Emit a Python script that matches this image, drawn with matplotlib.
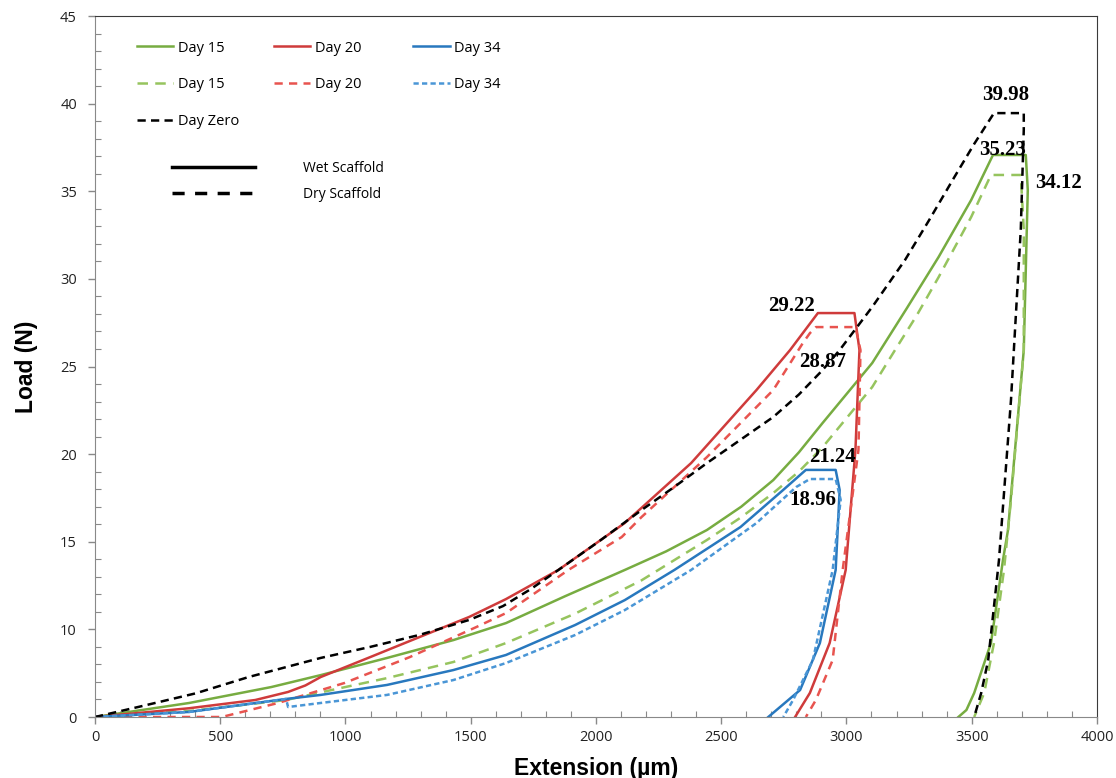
import matplotlib
matplotlib.use('Agg')
import matplotlib.pyplot as plt
from matplotlib.lines import Line2D
from matplotlib.ticker import MultipleLocator

# load is stored in the units of the printed y scale; the bottom gridline (printed "0") sits at 5
x_d15_wet = [0, 376, 704, 901, 1166, 1431, 1641, 1878, 2115, 2280, 2443, 2580, 2708, 2810, 2905, 3103, 3240,
             3368, 3498, 3585, 3716, 3724, 3716, 3708, 3645, 3625, 3577, 3510, 3479, 3447]
y_d15_wet = [5, 5.8, 6.71, 7.39, 8.37, 9.39, 10.36, 11.9, 13.39, 14.45, 15.67, 17.0, 18.52, 20.1, 21.78, 25.2, 28.3,
             31.25, 34.5, 37.07, 37.07, 35.07, 30.5, 25.94, 15.67, 13.96, 9.22, 6.37, 5.4, 5.0]

x_d20_wet = [0, 376, 640, 771, 840, 901, 1099, 1297, 1494, 1641, 1850, 2115, 2380, 2641, 2775, 2886,
             3032, 3052, 3036, 2997, 2933, 2854, 2795]
y_d20_wet = [5, 5.5, 5.97, 6.43, 6.8, 7.28, 8.42, 9.57, 10.71, 11.73, 13.39, 16.07, 19.49, 23.66, 25.94, 28.05,
             28.05, 25.94, 20.24, 13.39, 9.22, 6.37, 5.0]

x_d34_wet = [0, 376, 763, 901, 1166, 1431, 1641, 1917, 2115, 2313, 2577, 2747, 2838,
             2957, 2973, 2957, 2894, 2815, 2688]
y_d34_wet = [5, 5.29, 6.03, 6.26, 6.83, 7.68, 8.54, 10.25, 11.67, 13.39, 15.84, 17.95, 19.1,
             19.1, 17.95, 13.39, 9.22, 6.54, 5.0]

x_d15_dry = [0, 376, 763, 980, 1166, 1431, 1641, 1917, 2182, 2443, 2580, 2708, 2810, 2905, 3103, 3194, 3280,
             3368, 3498, 3577, 3696, 3708, 3708, 3657, 3629, 3589, 3550, 3510]
y_d15_dry = [5, 5.34, 5.97, 6.65, 7.22, 8.14, 9.22, 10.9, 12.8, 15.1, 16.4, 17.78, 19.0, 20.4, 23.83, 25.94, 27.9,
             30.1, 33.53, 35.93, 35.93, 32.8, 25.94, 17.4, 13.39, 9.22, 6.37, 5.0]

x_d20_dry = [0, 506, 731, 996, 1257, 1522, 1641, 1890, 2103, 2182, 2443, 2708, 2826, 2854, 2878,
             3036, 3056, 3048, 2985, 2945, 2878, 2838]
y_d20_dry = [5, 5, 5.8, 6.94, 8.42, 10.13, 10.93, 13.39, 15.27, 16.41, 19.83, 23.66, 26.34, 26.9, 27.25,
             27.25, 25.94, 20.24, 13.39, 8.25, 5.97, 5.0]

x_d34_dry = [0, 376, 763, 771, 901, 1166, 1431, 1641, 1917, 2115, 2380, 2641, 2799, 2854,
             2957, 2977, 2945, 2866, 2787, 2748]
y_d34_dry = [5, 5.29, 6.03, 5.57, 5.8, 6.26, 7.11, 8.08, 9.68, 11.1, 13.39, 16.07, 18.12, 18.58,
             18.58, 17.4, 13.39, 8.25, 5.97, 5.0]

x_d0 = [0, 178, 402, 613, 901, 1099, 1297, 1494, 1629, 1740, 1850, 2010, 2182, 2310, 2443, 2580, 2708, 2810,
        2905, 2973, 3103, 3234, 3330, 3431, 3510, 3589, 3708, 3708, 3696, 3657, 3609, 3566, 3538, 3510]
y_d0 = [5, 5.59, 6.35, 7.28, 8.37, 9.0, 9.69, 10.54, 11.33, 12.3, 13.39, 15.0, 16.81, 18.1, 19.49, 20.85, 22.12, 23.4,
        24.8, 25.94, 28.4, 31.08, 33.35, 35.81, 37.7, 39.46, 39.46, 38.5, 32.8, 23.1, 13.96, 8.25, 6.37, 5.0]

peak_labels = ['39.98', '35.23', '34.12', '29.22', '28.87', '21.24', '18.96']
peak_x = [3637, 3625, 3846, 2779, 2905, 2945, 2866]
peak_y = [40.5, 37.35, 35.47, 28.45, 25.25, 19.83, 17.38]

y_tick_pos = [5, 10, 15, 20, 25, 30, 35, 40, 45]
y_tick_labels = ['0', '10', '15', '20', '25', '30', '35', '40', '45']
x_ticks = [0, 500, 1000, 1500, 2000, 2500, 3000, 3500, 4000]

green, green_l = '#77AC41', '#96C45E'
red, red_l = '#CF3B3B', '#E8544F'
blue, blue_l = '#2878BE', '#4A96D6'

fig = plt.figure(figsize=(11.16, 7.78), dpi=100)
ax = fig.add_axes([0.0851, 0.0784, 0.8978, 0.901])

lw = 1.8
l15w, = ax.plot(x_d15_wet, y_d15_wet, color=green, lw=lw)
l15d, = ax.plot(x_d15_dry, y_d15_dry, color=green_l, lw=lw, dashes=(4.2, 2.9))
l20w, = ax.plot(x_d20_wet, y_d20_wet, color=red, lw=lw)
l20d, = ax.plot(x_d20_dry, y_d20_dry, color=red_l, lw=lw, dashes=(3.3, 2.5))
l34w, = ax.plot(x_d34_wet, y_d34_wet, color=blue, lw=lw)
l34d, = ax.plot(x_d34_dry, y_d34_dry, color=blue_l, lw=lw, dashes=(2.1, 1.3))
l0, = ax.plot(x_d0, y_d0, color='black', lw=lw, dashes=(3.3, 2.1))

for txt, px, py in zip(peak_labels, peak_x, peak_y):
    ax.text(px, py, txt, family='Liberation Serif', fontweight='bold', fontsize=15,
            ha='center', va='center')

ax.set_xlim(0, 4000)
ax.set_ylim(5, 45)
ax.set_xticks(x_ticks)
ax.set_yticks(y_tick_pos)
ax.set_yticklabels(y_tick_labels)
ax.xaxis.set_minor_locator(MultipleLocator(100))
ax.yaxis.set_minor_locator(MultipleLocator(1))
ax.tick_params(which='major', direction='out', length=5, width=1, color='#898989',
               labelsize=10.5, labelcolor='#222222', pad=8)
ax.tick_params(axis='x', which='major', pad=4)
ax.tick_params(which='minor', direction='in', length=4, width=0.8, color='#898989')
for lab in ax.get_xticklabels() + ax.get_yticklabels():
    lab.set_family('Open Sans')

for s in ['left', 'bottom']:
    ax.spines[s].set_color('#898989')
for s in ['top', 'right']:
    ax.spines[s].set_color('#3a3a3a')

ax.set_xlabel('Extension (µm)', family='Liberation Sans', fontweight='bold', fontsize=16.5, labelpad=9)
ax.set_ylabel('Load (N)', family='Liberation Sans', fontweight='bold', fontsize=16.5, labelpad=16)

# one legend per column so the columns keep even spacing
cols = [([l15w, l15d, l0], ['Day 15', 'Day 15', 'Day Zero'], 0.0417),
        ([l20w, l20d], ['Day 20', 'Day 20'], 0.1787),
        ([l34w, l34d], ['Day 34', 'Day 34'], 0.3178)]
for handles, labels, xpos in cols:
    leg = ax.legend(handles, labels, loc='upper left', bbox_to_anchor=(xpos, 0.965),
                    frameon=False, borderpad=0, borderaxespad=0, handlelength=2.5,
                    handletextpad=0.3, labelspacing=1.5,
                    prop={'family': 'Open Sans', 'size': 10.5})
    ax.add_artist(leg)

wet = Line2D([], [], color='black', lw=2.5)
dry = Line2D([], [], color='black', lw=2.5, dashes=(3.5, 3))
ax.legend([wet, dry], ['Wet Scaffold', 'Dry Scaffold'], loc='upper left',
          bbox_to_anchor=(0.070, 0.803), frameon=False, borderpad=0, handlelength=6,
          handletextpad=3.4, labelspacing=0.8, prop={'family': 'Open Sans', 'size': 10})

fig.savefig('out.png', dpi=100)
